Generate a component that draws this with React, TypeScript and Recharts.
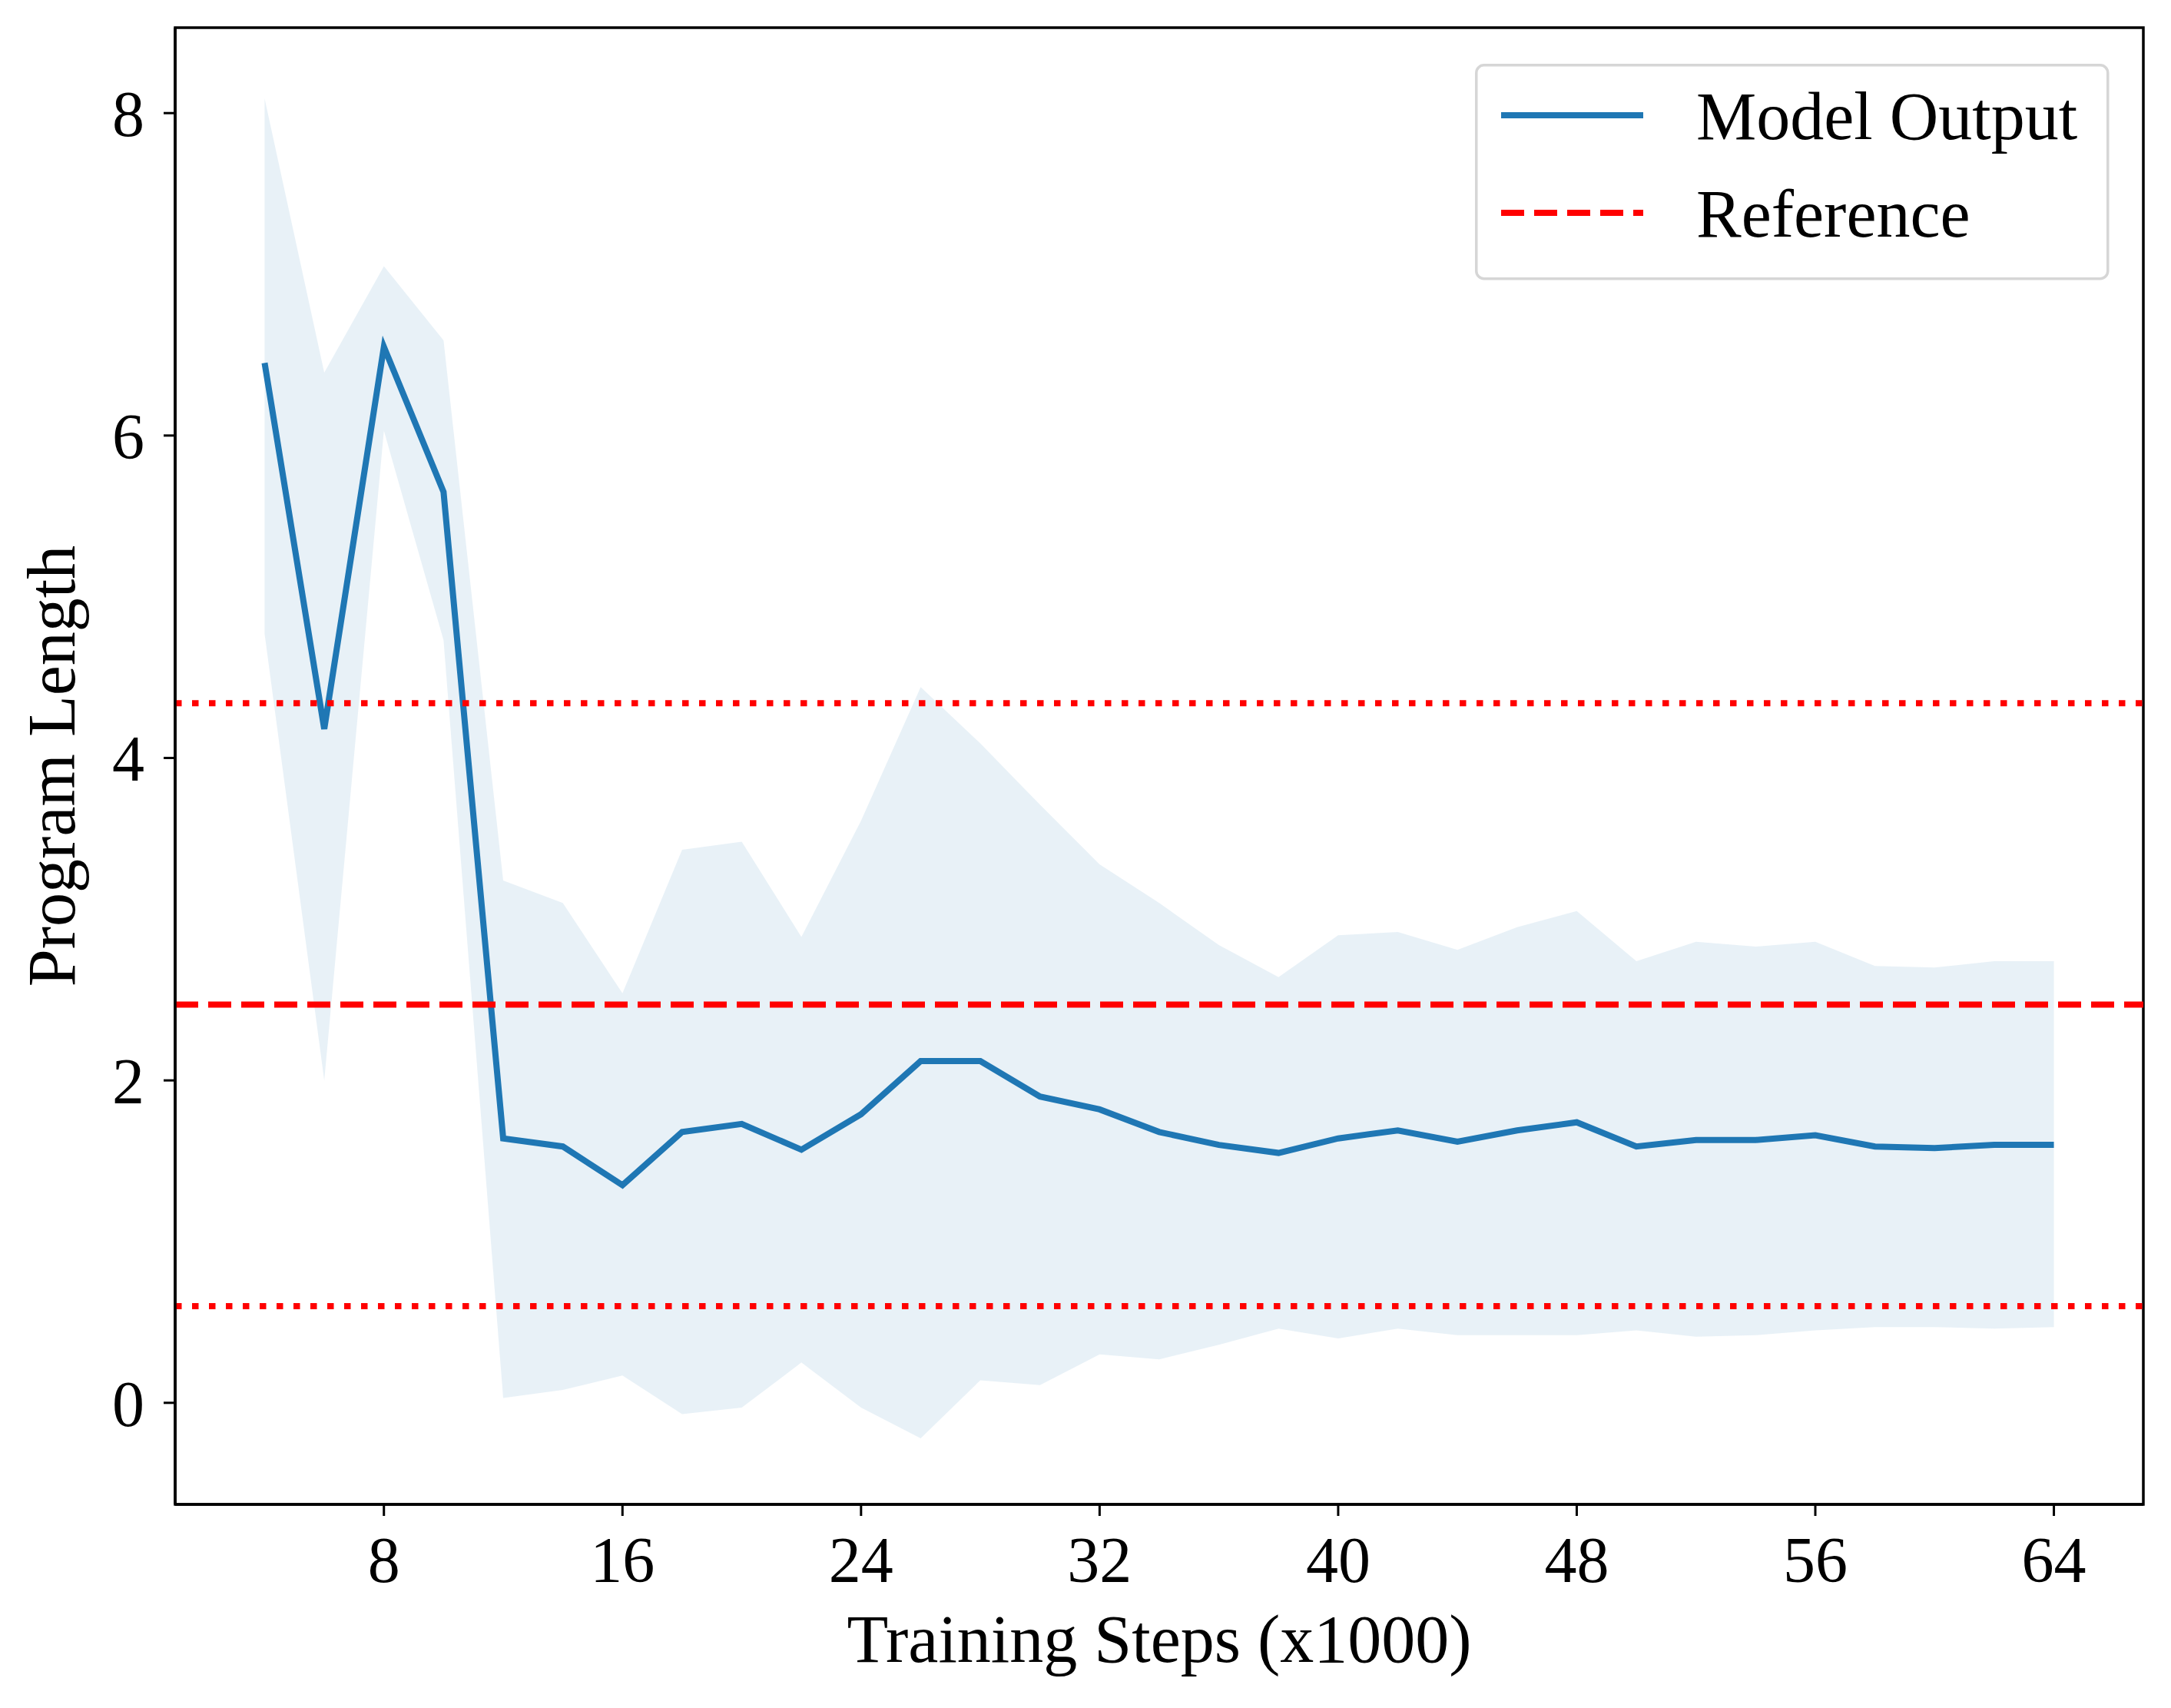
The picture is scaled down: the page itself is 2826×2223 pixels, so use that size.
import React from 'react';
import {
  ComposedChart,
  Line,
  Area,
  XAxis,
  YAxis,
  ReferenceLine,
  ReferenceArea,
  Legend,
} from 'recharts';

const steps = [4, 6, 8, 10, 12, 14, 16, 18, 20, 22, 24, 26, 28, 30, 32, 34, 36, 38, 40, 42, 44, 46, 48, 50, 52, 54, 56, 58, 60, 62, 64];
const meanLength = [6.45, 4.18, 6.55, 5.65, 1.64, 1.59, 1.35, 1.68, 1.73, 1.57, 1.79, 2.12, 2.12, 1.9, 1.82, 1.68, 1.6, 1.55, 1.64, 1.69, 1.62, 1.69, 1.74, 1.59, 1.63, 1.63, 1.66, 1.59, 1.58, 1.6, 1.6];
const upperBand = [8.09, 6.39, 7.05, 6.59, 3.24, 3.1, 2.54, 3.43, 3.48, 2.89, 3.61, 4.44, 4.09, 3.71, 3.34, 3.1, 2.84, 2.64, 2.9, 2.92, 2.81, 2.95, 3.05, 2.74, 2.86, 2.83, 2.86, 2.71, 2.7, 2.74, 2.74];
const lowerBand = [4.77, 2.0, 6.03, 4.73, 0.03, 0.08, 0.17, -0.07, -0.03, 0.25, -0.03, -0.22, 0.14, 0.11, 0.3, 0.27, 0.36, 0.46, 0.4, 0.46, 0.42, 0.42, 0.42, 0.45, 0.41, 0.42, 0.45, 0.47, 0.47, 0.46, 0.47];

const xTicks = [8, 16, 24, 32, 40, 48, 56, 64];
const yTicks = [0, 2, 4, 6, 8];
const xDomain = [1, 67];
const yDomain = [-0.63, 8.53];

const referenceMean = 2.47;
const referenceUpper = 4.34;
const referenceLower = 0.6;

const seriesLabel = 'Model Output';
const referenceLabel = 'Reference';
const xLabel = 'Training Steps (x1000)';
const yLabel = 'Program Length';

const data = steps.map((s, i) => ({
  step: s,
  mean: meanLength[i],
  band: [lowerBand[i], upperBand[i]],
}));

const FONT = '"Liberation Serif", "Times New Roman", serif';
const BLUE = '#1f77b4';
const RED = '#ff0000';

const LegendBox = () => (
  <svg width={826} height={282} style={{ display: 'block' }}>
    <rect x={1.75} y={1.75} width={822} height={278} rx={10} ry={10} fill="#ffffff" fillOpacity={0.8} stroke="#d6d6d6" strokeWidth={3.5} />
    <line x1={34} x2={219} y1={67} y2={67} stroke={BLUE} strokeWidth={8} />
    <text x={288} y={98} fontSize={88} fontFamily={FONT} fill="#000">{seriesLabel}</text>
    <line x1={34} x2={219} y1={194} y2={194} stroke={RED} strokeWidth={8} strokeDasharray="30 13" />
    <text x={288} y={225} fontSize={88} fontFamily={FONT} fill="#000">{referenceLabel}</text>
  </svg>
);

export default function App() {
  return (
    <div style={{ width: 2810, height: 2207, background: '#fff', fontFamily: FONT }}>
      <ComposedChart
        width={2810}
        height={2207}
        data={data}
        margin={{ top: 28, right: 28, left: 0, bottom: 47 }}
      >
        <XAxis
          dataKey="step"
          type="number"
          domain={xDomain}
          ticks={xTicks}
          allowDataOverflow
          tickSize={15}
          tickMargin={26}
          axisLine={{ stroke: '#000', strokeWidth: 3.5 }}
          tickLine={{ stroke: '#000', strokeWidth: 3 }}
          tick={{ fill: '#000', fontSize: 84, fontFamily: FONT }}
          height={210}
          label={{ value: xLabel, position: 'insideBottom', offset: 5, fill: '#000', fontSize: 88, fontFamily: FONT }}
        />
        <YAxis
          type="number"
          domain={yDomain}
          ticks={yTicks}
          allowDataOverflow
          width={220}
          tickSize={15}
          tickMargin={25}
          axisLine={{ stroke: '#000', strokeWidth: 3.5 }}
          tickLine={{ stroke: '#000', strokeWidth: 3 }}
          tick={{ fill: '#000', fontSize: 84, fontFamily: FONT }}
          label={{ value: yLabel, angle: -90, position: 'insideLeft', offset: 58, fill: '#000', fontSize: 88, fontFamily: FONT, style: { textAnchor: 'middle' } }}
        />
        <Area
          type="linear"
          dataKey="band"
          stroke="none"
          fill={BLUE}
          fillOpacity={0.1}
          isAnimationActive={false}
          legendType="none"
          activeDot={false}
        />
        <Line
          type="linear"
          dataKey="mean"
          stroke={BLUE}
          strokeWidth={8}
          dot={false}
          activeDot={false}
          isAnimationActive={false}
          name={seriesLabel}
        />
        <ReferenceLine y={referenceMean} stroke={RED} strokeWidth={8} strokeDasharray="30 13" />
        <ReferenceLine y={referenceUpper} stroke={RED} strokeWidth={8} strokeDasharray="8.5 13.5" />
        <ReferenceLine y={referenceLower} stroke={RED} strokeWidth={8} strokeDasharray="8.5 13.5" />
        <ReferenceArea
          x1={xDomain[0]}
          x2={xDomain[1]}
          y1={yDomain[0]}
          y2={yDomain[1]}
          fill="none"
          fillOpacity={0}
          stroke="#000"
          strokeWidth={3.5}
          ifOverflow="visible"
        />
        <Legend
          layout="vertical"
          align="center"
          verticalAlign="middle"
          content={() => <LegendBox />}
          wrapperStyle={{ position: 'absolute', left: 1912, top: 75, width: 826, height: 282 }}
        />
      </ComposedChart>
    </div>
  );
}
